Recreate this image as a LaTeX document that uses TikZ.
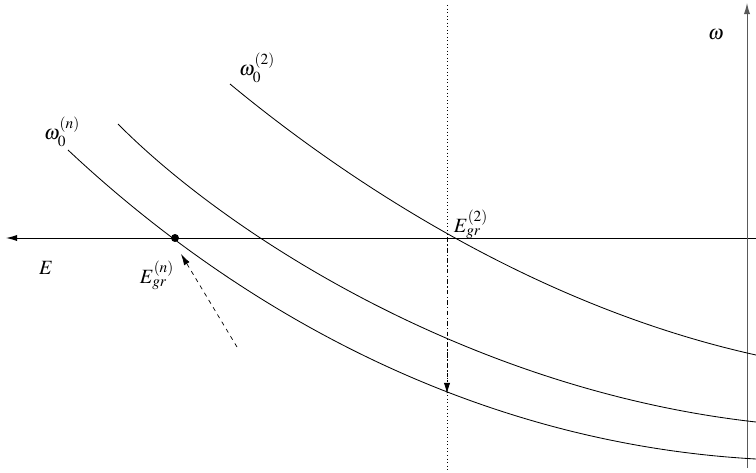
\documentclass[tikz,border=0pt]{standalone}
\usepackage{mathptmx}
\usetikzlibrary{arrows.meta}
\begin{document}
\begin{tikzpicture}[x=0.025cm,y=-0.025cm,font=\Large]
\useasboundingbox (0,0) rectangle (756,473);
\tikzset{curve/.style={line width=0.6pt},
  tip/.style={-{Latex[length=8pt,width=4.5pt]}},
  axis/.style={line width=0.7pt,tip}}

% axes
\coordinate (Eright) at (756,238);
\coordinate (Eleft) at (6,238);
\coordinate (wbot) at (747,468);
\coordinate (wtop) at (747,3);
\draw[axis] (Eright) -- (Eleft);
\draw[axis,gray!70!black] (wbot) -- (wtop);
\node (wlab) at (716,35) {\(\omega\)};
\node (Elab) at (46,268) {\(E\)};

% dotted line through E_gr^(2)
\coordinate (dtop) at (447,5);
\coordinate (dbot) at (447,470);
\draw[dotted,line width=0.5pt] (dtop) -- (dbot);

% curves omega_0
\draw[curve] (230,84) .. controls (340,175) and (530,305) .. (756,355);
\draw[curve] (118,124) .. controls (228,235) and (470,390) .. (756,422);
\draw[curve] (68,150) .. controls (215,288) and (450,442) .. (756,459);

\node (w2) at (257,68) {\(\omega_0^{(2)}\)};
\node (wn) at (62,132) {\(\omega_0^{(n)}\)};

% ground state energies
\node[circle,fill,inner sep=2pt] (Egn) at (175,238) {};
\coordinate (Eg2) at (447,238);
\coordinate (Eg2low) at (447,394);
\node (Egnlab) at (157,275) {\(E_{gr}^{(n)}\)};
\node (Eg2lab) at (471,224) {\(E_{gr}^{(2)}\)};

\draw[dash dot,tip,line width=0.5pt] (Eg2) -- (Eg2low);
\coordinate (tail) at (237,347);
\coordinate (head) at (181,254);
\draw[dashed,tip,line width=0.5pt] (tail) -- (head);
\end{tikzpicture}
\end{document}
